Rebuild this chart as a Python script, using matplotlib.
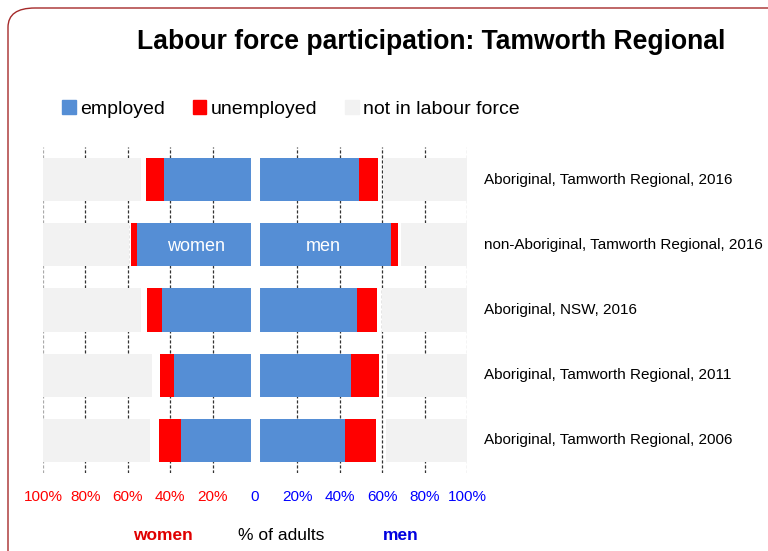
import numpy as np
import matplotlib.pyplot as plt
from matplotlib.patches import Patch, FancyBboxPatch

# data (% of adults)
rows = ['Aboriginal, Tamworth Regional, 2016',
        'non-Aboriginal, Tamworth Regional, 2016',
        'Aboriginal, NSW, 2016',
        'Aboriginal, Tamworth Regional, 2011',
        'Aboriginal, Tamworth Regional, 2006']
emp_w = [43, 55.5, 44, 38, 35]
unemp_w = [8.5, 3, 7, 7, 10.5]
notstated_w = [2.4, 1.1, 2.8, 3.7, 3.9]
emp_m = [49, 64, 48, 45.5, 42.5]
unemp_m = [9, 3.5, 9.5, 13, 14.5]
notstated_m = [2.5, 1.3, 2.6, 3.9, 4.9]
ticks = [-100, -80, -60, -40, -20, 0, 20, 40, 60, 80, 100]
ticklabels = ['100%', '80%', '60%', '40%', '20%', '0', '20%', '40%', '60%', '80%', '100%']

BLUE = '#558ed5'
RED = '#ff0000'
GREY = '#f2f2f2'

plt.rcParams['font.family'] = ['Liberation Sans', 'DejaVu Sans']

fig = plt.figure(figsize=(7.68, 5.51), dpi=100)
ax = fig.add_axes([43/768, 1-473/551, 424/768, 326/551])

y = np.arange(len(rows))
h = 0.66
ew = np.array(emp_w); uw = np.array(unemp_w); nw = np.array(notstated_w)
em = np.array(emp_m); um = np.array(unemp_m); nm = np.array(notstated_m)

# women to the left (negative), men to the right
ax.barh(y, -ew, height=h, color=BLUE, zorder=3)
ax.barh(y, -uw, left=-ew, height=h, color=RED, zorder=3)
ax.barh(y, -(100 - ew - uw - nw), left=-(ew + uw + nw), height=h, color=GREY, zorder=3)
ax.barh(y, em, height=h, color=BLUE, zorder=3)
ax.barh(y, um, left=em, height=h, color=RED, zorder=3)
ax.barh(y, 100 - em - um - nm, left=em + um + nm, height=h, color=GREY, zorder=3)
# white gap at the centre
ax.axvline(0, color='white', lw=6.5, zorder=4)

ax.text(-ew[1] / 2, 1.03, 'women', color='white', ha='center', va='center', fontsize=13, zorder=5)
ax.text(em[1] / 2, 1.03, 'men', color='white', ha='center', va='center', fontsize=13, zorder=5)

for t in ticks:
    if t == 0:
        continue
    c = '#aaaaaa' if abs(t) == 100 else '#333333'
    ax.axvline(t, color=c, lw=0.9, ls=(0, (2.5, 1.5)), zorder=1)

ax.set_xlim(-100, 100)
ax.set_ylim(len(rows) - 0.5, -0.5)
ax.set_xticks(ticks)
ax.set_xticklabels(ticklabels, fontsize=11)
for lab, t in zip(ax.get_xticklabels(), ticks):
    lab.set_color('#ff0000' if t < 0 else '#0000ff')
ax.tick_params(axis='x', length=0, pad=12)
ax.set_yticks([])
for s in ax.spines.values():
    s.set_visible(False)

for i, r in enumerate(rows):
    ax.text(1.04, 1 - (i + 0.5) / len(rows), r, transform=ax.transAxes,
            ha='left', va='center', fontsize=11)

fig.text(431/768, 1 - 42/551, 'Labour force participation: Tamworth Regional',
         ha='center', va='center', fontsize=19.1, fontweight='bold')

handles = [Patch(color=BLUE), Patch(color=RED), Patch(color=GREY)]
fig.legend(handles, ['employed', 'unemployed', 'not in labour force'], ncol=3,
           loc='center left', bbox_to_anchor=(62/768, 1 - 109/551), frameon=False,
           fontsize=14, handlelength=0.7, handleheight=0.7, handletextpad=0.25,
           columnspacing=1.4, borderaxespad=0, borderpad=0)

fig.text(163/768, 1 - 536/551, 'women', color='#e00000', fontweight='bold',
         ha='center', va='center', fontsize=12.5)
fig.text(281/768, 1 - 536/551, '% of adults', color='black',
         ha='center', va='center', fontsize=12.5)
fig.text(401/768, 1 - 536/551, 'men', color='#0000e0', fontweight='bold',
         ha='center', va='center', fontsize=12.5)

frame = FancyBboxPatch((8/768, 1 - 8/551 - 600/551), 800/768, 600/551,
                       transform=fig.transFigure,
                       boxstyle='round,pad=0,rounding_size=0.035', fill=False,
                       edgecolor='#a52a2a', lw=1, clip_on=False)
fig.patches.append(frame)

fig.savefig('out.png', dpi=100)
